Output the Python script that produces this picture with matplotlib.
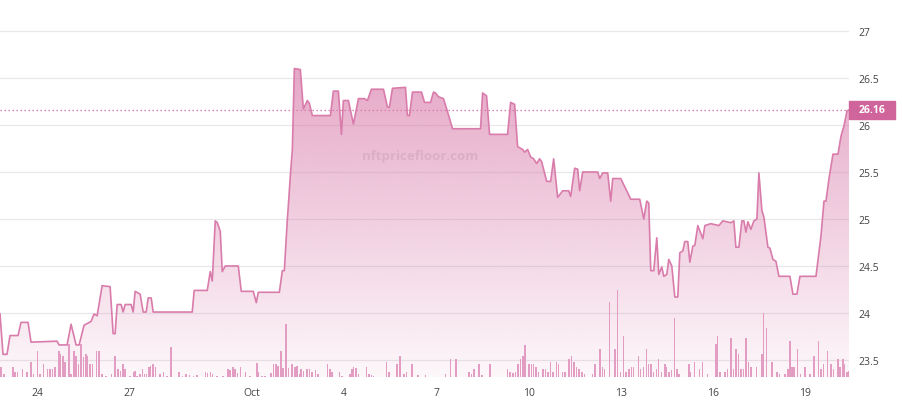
import matplotlib
matplotlib.use("Agg")
import matplotlib.pyplot as plt
import matplotlib.dates as mdates
import matplotlib.transforms as mtransforms
from matplotlib.patches import Rectangle
from matplotlib.colors import to_rgb
from datetime import datetime, timedelta
import numpy as np

# floor price, time in days after Sep 24
price_days = [
    -1.206, -1.108, -0.978, -0.880, -0.619, -0.522, -0.293, -0.196, 0.652, 0.717,
    0.978, 1.108, 1.271, 1.369, 1.532, 1.760, 1.858, 1.956, 2.119, 2.379,
    2.477, 2.542, 2.608, 2.738, 2.803, 2.868, 3.064, 3.129, 3.194, 3.357,
    3.455, 3.553, 3.618, 3.716, 3.781, 5.052, 5.117, 5.541, 5.639, 5.704,
    5.802, 5.867, 5.965, 6.030, 6.128, 6.551, 6.649, 7.040, 7.138, 7.203,
    7.888, 7.986, 8.051, 8.149, 8.181, 8.246, 8.312, 8.377, 8.572, 8.670,
    8.800, 8.866, 8.963, 9.550, 9.648, 9.811, 9.909, 9.974, 10.137, 10.300,
    10.463, 10.658, 10.756, 10.886, 11.278, 11.408, 11.473, 11.571, 11.995, 12.060,
    12.125, 12.223, 12.516, 12.614, 12.810, 12.907, 12.973, 13.070, 13.233, 13.364,
    13.527, 14.439, 14.505, 14.635, 14.733, 15.319, 15.417, 15.548, 15.645, 15.808,
    15.873, 15.971, 16.069, 16.167, 16.265, 16.362, 16.428, 16.591, 16.721, 16.819,
    16.949, 17.112, 17.308, 17.373, 17.503, 17.601, 17.666, 17.764, 18.253, 18.318,
    18.416, 18.579, 18.677, 18.742, 19.002, 19.198, 19.329, 19.622, 19.752, 19.850,
    19.915, 19.980, 20.078, 20.176, 20.241, 20.339, 20.404, 20.502, 20.567, 20.665,
    20.763, 20.860, 20.926, 21.023, 21.089, 21.186, 21.252, 21.349, 21.415, 21.512,
    21.675, 21.741, 21.936, 22.197, 22.327, 22.588, 22.686, 22.751, 22.849, 22.947,
    23.012, 23.077, 23.142, 23.240, 23.338, 23.435, 23.501, 23.598, 23.664, 23.794,
    23.859, 23.957, 24.055, 24.153, 24.511, 24.609, 24.739, 24.837, 25.359, 25.522,
    25.619, 25.685, 25.782, 25.913, 26.076, 26.173, 26.271, 26.369, 26.434,
]
price_vals = [
    23.99, 23.56, 23.56, 23.76, 23.76, 23.90, 23.90, 23.69, 23.70, 23.66,
    23.66, 23.88, 23.66, 23.66, 23.87, 23.91, 23.99, 23.97, 24.29, 24.28,
    23.78, 23.78, 24.09, 24.09, 24.01, 24.09, 24.09, 24.01, 24.23, 24.20,
    24.01, 24.01, 24.16, 24.16, 24.01, 24.01, 24.24, 24.24, 24.44, 24.34,
    24.98, 24.96, 24.87, 24.44, 24.50, 24.50, 24.23, 24.23, 24.11, 24.22,
    24.22, 24.45, 24.45, 25.00, 25.14, 25.46, 25.74, 26.60, 26.59, 26.17,
    26.26, 26.23, 26.10, 26.10, 26.36, 26.36, 25.90, 26.26, 26.26, 26.01,
    26.28, 26.28, 26.26, 26.38, 26.38, 26.19, 26.19, 26.39, 26.40, 26.10,
    26.10, 26.35, 26.35, 26.24, 26.24, 26.35, 26.34, 26.30, 26.28, 26.14,
    25.96, 25.96, 26.34, 26.31, 25.90, 25.90, 26.24, 26.22, 25.77, 25.74,
    25.71, 25.74, 25.66, 25.64, 25.59, 25.64, 25.61, 25.40, 25.40, 25.64,
    25.23, 25.30, 25.30, 25.24, 25.54, 25.53, 25.30, 25.50, 25.50, 25.43,
    25.49, 25.49, 25.19, 25.43, 25.43, 25.30, 25.21, 25.21, 25.00, 25.19,
    25.17, 24.45, 24.45, 24.80, 24.41, 24.49, 24.39, 24.41, 24.57, 24.50,
    24.17, 24.17, 24.64, 24.66, 24.76, 24.76, 24.54, 24.71, 24.72, 24.93,
    24.79, 24.93, 24.95, 24.93, 24.98, 24.96, 24.98, 24.70, 24.70, 24.98,
    24.98, 24.86, 24.97, 24.89, 24.98, 25.00, 25.49, 25.09, 25.02, 24.70,
    24.69, 24.57, 24.55, 24.39, 24.39, 24.20, 24.20, 24.39, 24.39, 24.82,
    25.19, 25.19, 25.43, 25.69, 25.69, 25.88, 25.99, 26.15, 26.16,
]

# traded volume bars (same time base)
vol_days = [
    -1.18, -1.08, -0.79, -0.72, -0.64, -0.47, -0.32, -0.20, -0.12, 0.02,
    0.10, 0.21, 0.34, 0.42, 0.50, 0.59, 0.71, 0.77, 0.84, 0.91,
    1.04, 1.11, 1.21, 1.27, 1.35, 1.43, 1.51, 1.59, 1.65, 1.73,
    1.81, 1.94, 2.02, 2.11, 2.24, 2.43, 2.54, 2.63, 2.71, 2.79,
    2.87, 3.03, 3.14, 3.19, 3.25, 3.36, 3.43, 3.50, 3.57, 3.65,
    3.70, 3.77, 3.85, 4.01, 4.12, 4.23, 4.36, 4.50, 4.63, 4.74,
    4.85, 4.97, 5.10, 5.20, 5.31, 5.48, 5.55, 5.64, 5.71, 5.86,
    6.05, 6.21, 6.29, 6.38, 6.45, 6.53, 6.62, 6.78, 6.94, 7.16,
    7.21, 7.32, 7.43, 7.62, 7.70, 7.78, 7.84, 7.94, 8.01, 8.11,
    8.19, 8.30, 8.39, 8.46, 8.54, 8.59, 8.68, 8.79, 8.87, 8.95,
    9.06, 9.14, 9.46, 9.53, 9.60, 9.85, 9.93, 10.18, 10.26, 10.31,
    10.39, 10.47, 10.72, 10.80, 10.89, 10.96, 11.38, 11.45, 11.72, 11.81,
    11.94, 12.03, 12.21, 12.41, 12.65, 13.30, 13.46, 13.64, 14.06, 14.14,
    14.22, 14.38, 14.49, 14.74, 15.31, 15.39, 15.49, 15.58, 15.66, 15.74,
    15.82, 15.89, 16.01, 16.09, 16.16, 16.25, 16.33, 16.47, 16.56, 16.63,
    16.72, 16.80, 16.91, 16.97, 17.10, 17.18, 17.32, 17.40, 17.48, 17.57,
    17.65, 17.75, 17.83, 18.08, 18.16, 18.33, 18.41, 18.48, 18.64, 18.81,
    18.89, 18.99, 19.09, 19.17, 19.27, 19.35, 19.42, 19.58, 19.65, 19.74,
    19.84, 19.91, 19.98, 20.07, 20.16, 20.23, 20.33, 20.44, 20.50, 20.58,
    20.65, 20.76, 20.83, 20.90, 21.23, 21.28, 21.41, 21.56, 21.67, 21.83,
    22.10, 22.15, 22.24, 22.39, 22.48, 22.59, 22.67, 22.75, 22.84, 22.91,
    23.00, 23.08, 23.16, 23.24, 23.43, 23.60, 23.65, 23.75, 23.92, 24.09,
    24.17, 24.35, 24.44, 24.52, 24.58, 24.65, 24.76, 24.85, 25.00, 25.16,
    25.30, 25.44, 25.52, 25.60, 25.74, 25.85, 25.93, 26.07, 26.14, 26.23,
    26.29, 26.37, 26.44,
]
vol_vals = [
    2.4, 0.75, 2.4, 1.2, 1.2, 2.0, 1.2, 3.7, 0.75, 6.4,
    0.75, 3.25, 2.0, 2.0, 2.0, 2.4, 6.4, 5.75, 5.3, 3.7,
    8.25, 0.75, 6.4, 5.3, 3.25, 8.25, 4.9, 5.75, 5.3, 3.25,
    3.25, 6.4, 6.4, 0.75, 0.3, 0.75, 5.2, 2.0, 1.6, 3.25,
    2.0, 0.3, 1.2, 1.6, 0.3, 0.75, 2.0, 0.75, 0.75, 2.4,
    2.8, 3.25, 2.4, 0.75, 1.2, 0.3, 7.6, 0.1, 1.2, 0.3,
    0.75, 0.5, 0.2, 0.6, 0.1, 1.2, 0.9, 1.2, 0.75, 0.2,
    0.3, 2.0, 1.8, 2.4, 2.0, 1.0, 2.4, 1.2, 0.2, 3.5,
    1.2, 0.2, 0.2, 1.0, 3.25, 3.25, 2.7, 6.4, 2.25, 13.25,
    2.25, 3.25, 2.4, 2.8, 0.75, 2.0, 1.6, 2.0, 2.0, 1.2,
    1.8, 0.75, 3.25, 2.0, 1.2, 1.2, 0.2, 0.75, 2.0, 2.4,
    2.2, 0.75, 2.4, 0.75, 0.6, 0.2, 3.7, 1.3, 3.25, 5.2,
    0.75, 1.2, 3.25, 0.6, 0.6, 0.75, 4.5, 4.5, 1.2, 0.75,
    2.0, 3.25, 0.6, 3.25, 2.0, 1.2, 1.0, 1.2, 3.25, 4.5,
    5.2, 8.1, 3.25, 3.25, 3.25, 2.4, 1.2, 2.0, 2.0, 1.2,
    3.7, 1.2, 3.7, 3.25, 1.2, 1.2, 4.5, 5.2, 3.7, 2.4,
    2.0, 1.2, 0.75, 0.75, 3.25, 7.0, 2.5, 2.1, 18.75, 7.1,
    21.7, 1.25, 10.25, 1.25, 2.1, 2.5, 2.5, 5.25, 2.1, 2.5,
    7.1, 3.3, 3.3, 1.25, 2.1, 4.6, 1.25, 3.3, 2.5, 1.25,
    1.7, 14.8, 2.1, 0.8, 3.3, 1.25, 3.75, 2.1, 3.75, 0.8,
    8.3, 10.25, 1.25, 1.25, 2.1, 9.75, 2.1, 7.1, 5.8, 2.1,
    2.1, 9.75, 3.75, 2.5, 2.5, 5.8, 16.1, 12.25, 3.75, 1.25,
    0.8, 0.8, 2.1, 9.0, 2.5, 2.5, 7.1, 0.8, 2.5, 0.8,
    5.25, 9.0, 2.1, 3.3, 6.5, 3.3, 2.1, 4.6, 2.5, 4.6,
    3.3, 1.25, 1.4,
]

tick_days = [0, 3, 7, 10, 13, 16, 19, 22, 25]
tick_labels = ["24", "27", "Oct", "4", "7", "10", "13", "16", "19"]
y_ticks = [23.5, 24, 24.5, 25, 25.5, 26, 26.5, 27]
last_price = 26.16

base = datetime(2023, 9, 24)
def to_num(days):
    return mdates.date2num([base + timedelta(days=d) for d in days])

line_c = "#d97cab"
tag_c = "#d0659b"
plt.rcParams["font.family"] = ["Open Sans", "DejaVu Sans"]

fig = plt.figure(figsize=(9.02, 4.02), dpi=100)
ax = fig.add_axes([0.0, 24 / 402, 849 / 902, 378 / 402])

t = to_num(price_days)
p = np.array(price_vals)
ymin, ymax = 23.319, 27.34
xmin, xmax = t[0], t[-1]

# volume bars on a hidden twin axis (made first, twinx resets tick side)
ax2 = ax.twinx()
ax2.bar(to_num(vol_days), vol_vals, width=0.05, color="#e39cc2", zorder=2)
ax2.set_ylim(0, 94.5)
ax2.set_xlim(xmin, xmax)
ax2.set_yticks([])
for s in ax2.spines.values():
    s.set_visible(False)

# gradient fill under the line
rgb = to_rgb(line_c)
n = 256
grad = np.zeros((n, 1, 4))
grad[..., :3] = rgb
grad[:, 0, 3] = np.linspace(0.8, 0.06, n)
im = ax.imshow(grad, extent=[xmin, xmax, ymin, ymax], aspect="auto",
               origin="upper", zorder=1, interpolation="bilinear")
poly = ax.fill_between(t, p, ymin, facecolor="none", edgecolor="none")
im.set_clip_path(poly.get_paths()[0], transform=ax.transData)
ax.plot(t, p, color=line_c, lw=1.2, zorder=3)

ax.axhline(last_price, color=line_c, lw=0.9, ls=(0, (1.2, 2)), zorder=2)

ax.set_xlim(xmin, xmax)
ax.set_ylim(ymin, ymax)
ax.set_yticks(y_ticks)
ax.set_yticklabels([f"{v:g}" for v in y_ticks])
ax.yaxis.tick_right()
ax.set_xticks(to_num(tick_days))
ax.set_xticklabels(tick_labels)
ax.tick_params(axis="both", length=0, labelsize=7.5, labelcolor="#444444")
ax.tick_params(axis="y", pad=7)
ax.tick_params(axis="x", pad=7)
ax.grid(axis="y", color="#e8e8e8", lw=0.9, zorder=0)
ax.set_axisbelow(True)
for s in ax.spines.values():
    s.set_visible(False)

# last price tag
trans = mtransforms.blended_transform_factory(ax.transAxes, ax.transData)
ax.add_patch(Rectangle((1.0, last_price - 0.096), 46 / 849, 0.192,
                       transform=trans, color=tag_c, clip_on=False, zorder=5))
ax.text(1.0 + 23 / 849, last_price, f"{last_price:.2f}", transform=trans,
        ha="center", va="center", color="white", fontsize=7.5,
        fontweight="bold", zorder=6, clip_on=False)

# watermark
ax.text(0.495, 0.585, "nftpricefloor.com", transform=ax.transAxes,
        ha="center", va="center", fontsize=9.5, fontweight="bold",
        color="#a07088", alpha=0.2, zorder=4)

fig.savefig("out.png", dpi=100)
